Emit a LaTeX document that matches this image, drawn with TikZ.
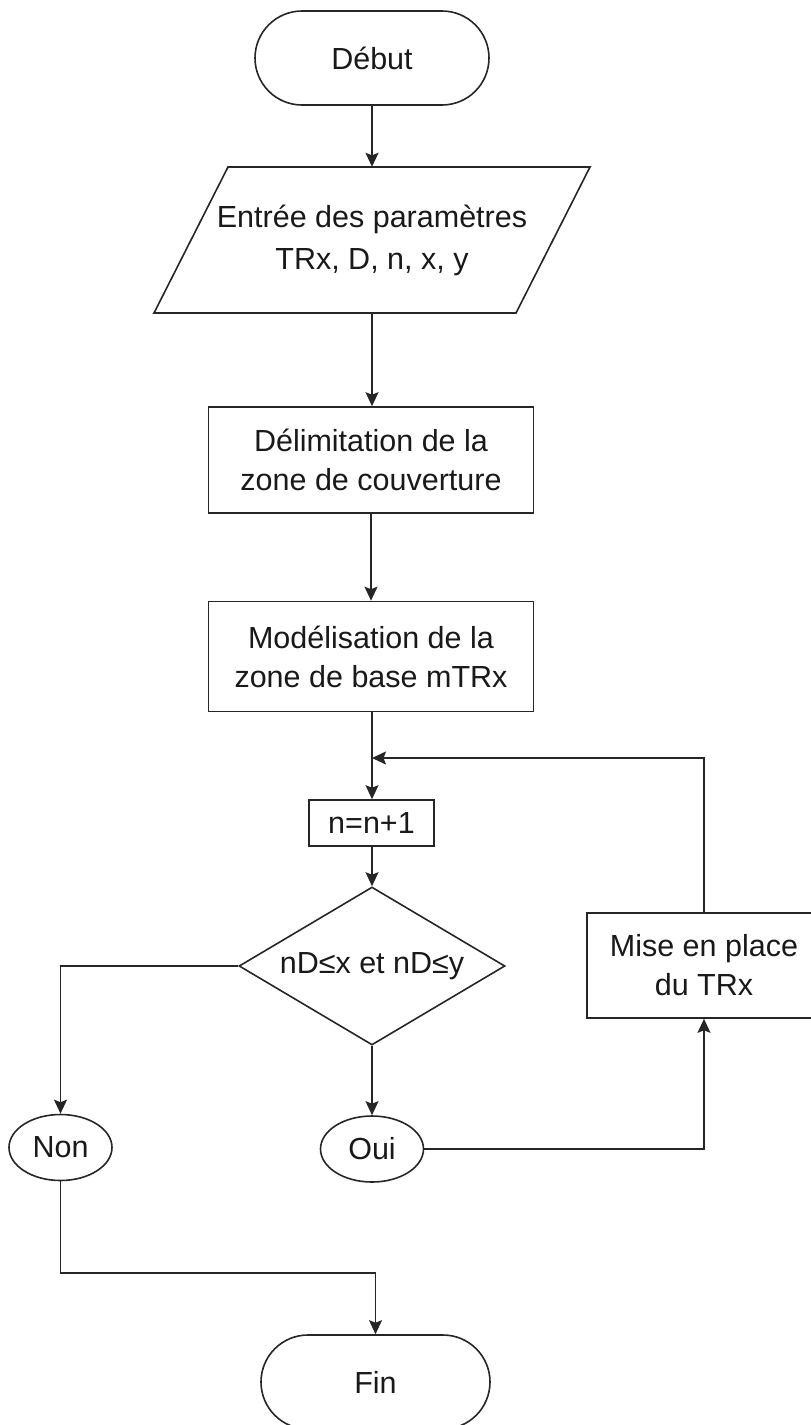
\documentclass[tikz,border=0pt]{standalone}
\usepackage{fontspec}
\setmainfont{Liberation Sans}
\usetikzlibrary{shapes.misc,shapes.geometric,arrows.meta}
\begin{document}
\begin{tikzpicture}[x=1pt,y=-1pt,
  every node/.style={font=\fontsize{30.5}{39}\selectfont, text=black!90,
    align=center, inner sep=0pt},
  ln/.style={draw=black!85, line width=1.6pt},
  arr/.style={ln, -{Stealth[length=14pt,width=13pt,inset=2.5pt]}},
  terminal/.style={ln, rounded rectangle, minimum width=234pt, minimum height=94pt},
  procbox/.style 2 args={ln, rectangle, minimum width=#1, minimum height=#2},
  decision/.style={ln, diamond, aspect=1.684, minimum width=266pt, minimum height=158pt},
  answer/.style={ln, ellipse, minimum width=103pt, minimum height=66pt}
]
\clip (0,0) rectangle (811,1425);

% terminals
\node[terminal] (debut) at (372,58) {Début};
\node[terminal, minimum width=229pt] (fin) at (375.5,1382) {Fin};

% input parallelogram
\node[minimum height=146pt, font=\fontsize{30.5}{42}\selectfont] (inp) at (372,240)
  {Entrée des paramètres\\TRx, D, n, x, y};
\draw[ln] (228,167) -- (590,167) -- (516,313) -- (154,313) -- cycle;

% processing steps
\node[procbox={325pt}{106pt}] (deli) at (371,460) {Délimitation de la\\zone de couverture};
\node[procbox={325pt}{110pt}] (model) at (371,656.5) {Modélisation de la\\zone de base mTRx};
\node[procbox={125pt}{46pt}] (incr) at (371.5,823) {n=n+1};
\node[decision] (test) at (372,966) {nD≤x et nD≤y};
\node[procbox={234pt}{105pt}] (mise) at (704,965.5) {Mise en place\\du TRx};

% outcomes
\node[answer] (non) at (60.5,1147.5) {Non};
\node[answer] (oui) at (372,1149) {Oui};

% junctions
\coordinate (loop) at (372,758);
\coordinate (merge) at (375.5,1273);

% connectors
\draw[arr] (debut.south) -- (inp.north);
\draw[arr] (inp.south) -- (inp.south |- deli.north);
\draw[arr] (deli.south) -- (model.north);
\draw[arr] (model.south -| loop) -- (loop |- incr.north);
\draw[arr] (mise.north) |- (loop);
\draw[arr] (incr.south -| test.north) -- (test.north);
\draw[arr] (test.west) -| (non.north);
\draw[arr] (test.south) -- (oui.north);
\draw[arr] (oui.east) -| (mise.south);
\draw[arr] (non.south) |- (merge) -- (fin.north);
\end{tikzpicture}
\end{document}
